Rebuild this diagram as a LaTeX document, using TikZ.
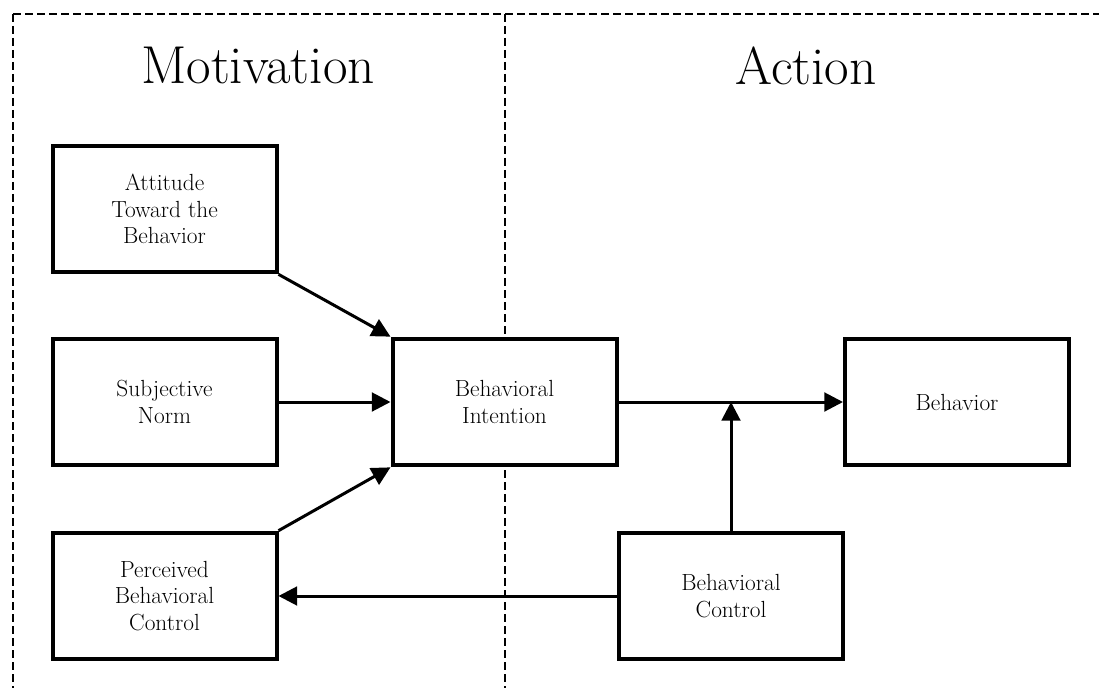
\documentclass[tikz,border=0pt]{standalone}
\usetikzlibrary{arrows.meta}

\begin{document}
\begin{tikzpicture}[x=0.75pt,y=0.75pt,yscale=-1,xscale=1,
	box/.style={draw, fill=white, line width=3pt, minimum width=168pt, minimum height=95pt, align=center, font=\fontsize{17.5}{20}\selectfont},
	arr/.style={line width=2.25pt, -{Triangle[length=14pt,width=14pt]}},
	frame/.style={line width=1pt, dash pattern=on 6pt off 3pt}]
	\useasboundingbox (0,0) rectangle (1099,688);
	
	%Dashed frame and divider
	\draw [frame] (13,14) -- (1110,14) (13,14) -- (13,700) ;
	\draw [frame] (505,14) -- (505,700) ;
	
	%Titles
	\node (tmot) at (258,66) {\fontsize{40}{44}\selectfont Motivation};
	\node (tact) at (806,66) {\fontsize{40}{44}\selectfont Action};
	
	%Shape: Rectangle boxes
	\node [box] (att) at (164.5,209) {Attitude\\Toward the\\Behavior};
	\node [box] (norm) at (164.5,402) {Subjective\\Norm};
	\node [box] (pbc) at (164.5,596) {Perceived\\Behavioral\\Control};
	\node [box] (bi) at (504.5,402) {Behavioral\\Intention};
	\node [box] (beh) at (957,402) {Behavior};
	\node [box] (bc) at (731,596) {Behavioral\\Control};
	
	%Straight Lines
	\coordinate (junc) at (bc.north |- bi.east);
	\draw [arr] (att.south east) -- (bi.north west) ;
	\draw [arr] (norm.east) -- (bi.west) ;
	\draw [arr] (pbc.north east) -- (bi.south west) ;
	\draw [arr] (bi.east) -- (beh.west) ;
	\draw [arr] (bc.north) -- (junc) ;
	\draw [arr] (bc.west) -- (pbc.east) ;
	
\end{tikzpicture}
\end{document}
